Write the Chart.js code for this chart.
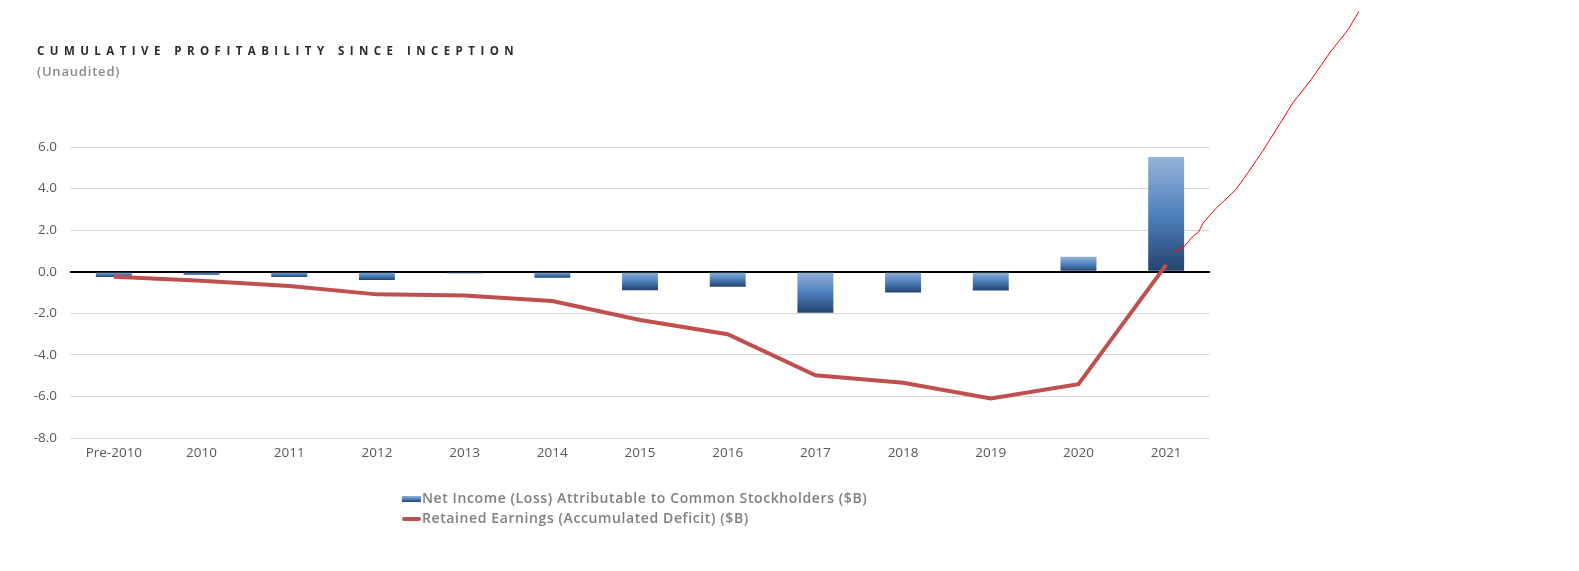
<!DOCTYPE html>
<html>
<head>
<meta charset="utf-8">
<script src="https://cdn.jsdelivr.net/npm/chart.js@4.4.1/dist/chart.umd.min.js"></script>
<style>
  body { margin: 0; background: #fff; font-family: "Open Sans", sans-serif; }
  #wrap { position: relative; width: 1579px; height: 571px; }
  #title { position: absolute; left: 37px; top: 43px; font-size: 11.5px; font-weight: 700; letter-spacing: 5.45px; color: #2b2b2b; white-space: nowrap; }
  #sub { position: absolute; left: 37px; top: 62px; font-size: 13px; font-weight: 600; letter-spacing: 0.8px; color: #8a8a8a; }
  #legend { position: absolute; left: 402px; top: 488px; font-size: 14px; font-weight: 600; letter-spacing: 0.6px; color: #7f7f7f; }
  #legend div { height: 20px; line-height: 20px; white-space: nowrap; }
  #legend span.sw { display: inline-block; width: 19px; vertical-align: middle; margin-right: 1px; }
</style>
</head>
<body>
<div id="wrap">
  <canvas id="profitChart" width="1579" height="571"></canvas>
  <div id="title">CUMULATIVE PROFITABILITY SINCE INCEPTION</div>
  <div id="sub">(Unaudited)</div>
  <div id="legend"></div>
</div>
<script>
// data
const years = ['Pre-2010', '2010', '2011', '2012', '2013', '2014', '2015', '2016', '2017', '2018', '2019', '2020', '2021'];
const netIncome = [-0.26, -0.15, -0.25, -0.40, -0.07, -0.29, -0.89, -0.72, -1.98, -1.00, -0.90, 0.72, 5.52];
const retainedEarnings = [-0.24, -0.44, -0.69, -1.09, -1.15, -1.41, -2.32, -3.01, -4.98, -5.34, -6.10, -5.41, 0.33];
// hand-drawn red trend stroke (x in category index units)
const trendX = [12.09, 12.2, 12.31, 12.37, 12.42, 12.56, 12.79, 12.93, 13.1, 13.3, 13.45, 13.65, 13.87, 14.07, 14.2];
const trendY = [0.95, 1.19, 1.72, 1.91, 2.34, 3.01, 3.93, 4.75, 5.8, 7.14, 8.16, 9.22, 10.56, 11.62, 12.53];
const yTicks = [-8, -6, -4, -2, 0, 2, 4, 6];

const ctx = document.getElementById('profitChart');

// each bar gets its own light-to-dark vertical gradient
function barGradient(context) {
  const chart = context.chart;
  if (!chart.chartArea || context.parsed === undefined) return '#4f81bd';
  const y = chart.scales.y;
  const v = context.parsed.y;
  const top = y.getPixelForValue(Math.max(v, 0));
  const bottom = y.getPixelForValue(Math.min(v, 0));
  if (!(bottom - top > 0)) return '#4f81bd';
  const g = chart.ctx.createLinearGradient(0, top, 0, bottom);
  g.addColorStop(0, '#95b3d7');
  g.addColorStop(0.5, '#4f81bd');
  g.addColorStop(1, '#23446e');
  return g;
}

const profitChart = new Chart(ctx, {
  type: 'bar',
  data: {
    labels: years,
    datasets: [
      {
        type: 'bar',
        label: 'Net Income (Loss) Attributable to Common Stockholders ($B)',
        data: netIncome,
        backgroundColor: barGradient,
        grouped: false,
        categoryPercentage: 1,
        barPercentage: 0.41,
        order: 2
      },
      {
        type: 'line',
        label: 'Retained Earnings (Accumulated Deficit) ($B)',
        data: retainedEarnings,
        borderColor: '#c0504d',
        backgroundColor: '#c0504d',
        borderWidth: 4,
        pointRadius: 0,
        tension: 0,
        order: 1
      },
      {
        type: 'line',
        label: 'trend',
        xAxisID: 'xa',
        data: trendX.map((x, i) => ({ x: x, y: trendY[i] })),
        borderColor: '#ff0000',
        borderWidth: 1,
        pointRadius: 0,
        tension: 0,
        clip: false,
        order: 0
      }
    ]
  },
  options: {
    responsive: false,
    animation: false,
    layout: { padding: { left: 0, right: 369, top: 147, bottom: 103 } },
    plugins: {
      legend: { display: false },
      tooltip: { enabled: false }
    },
    scales: {
      x: {
        grid: { display: false, drawTicks: false },
        border: { display: false },
        ticks: { color: '#595959', padding: 7, font: { family: 'Open Sans', size: 13.5 } },
        afterFit: s => { s.height = 30; }
      },
      xa: {
        type: 'linear',
        display: false,
        offset: false,
        bounds: 'data',
        // line up with the category slots; set late so points past the edge still draw
        afterBuildTicks: s => { s.min = -0.5; s.max = 12.5; }
      },
      y: {
        min: -8,
        max: 6,
        afterBuildTicks: s => { s.ticks = yTicks.map(v => ({ value: v })); },
        grid: {
          drawTicks: false,
          color: c => (c.tick && c.tick.value === 0 ? '#000000' : '#d9d9d9'),
          lineWidth: c => (c.tick && c.tick.value === 0 ? 2 : 1)
        },
        border: { display: false },
        ticks: {
          color: '#595959',
          padding: 13,
          font: { family: 'Open Sans', size: 13.5 },
          callback: v => v.toFixed(1)
        },
        afterFit: s => { s.width = 70; }
      }
    }
  }
});

// simple html legend from the two real series
const legendEl = document.getElementById('legend');
profitChart.data.datasets.slice(0, 2).forEach((ds, i) => {
  const row = document.createElement('div');
  const sw = document.createElement('span');
  sw.className = 'sw';
  if (i === 0) {
    sw.style.height = '6px';
    sw.style.background = 'linear-gradient(#95b3d7, #4f81bd, #23446e)';
  } else {
    sw.style.height = '4px';
    sw.style.borderRadius = '2px';
    sw.style.background = ds.borderColor;
  }
  row.appendChild(sw);
  row.appendChild(document.createTextNode(ds.label));
  legendEl.appendChild(row);
});
</script>
</body>
</html>
